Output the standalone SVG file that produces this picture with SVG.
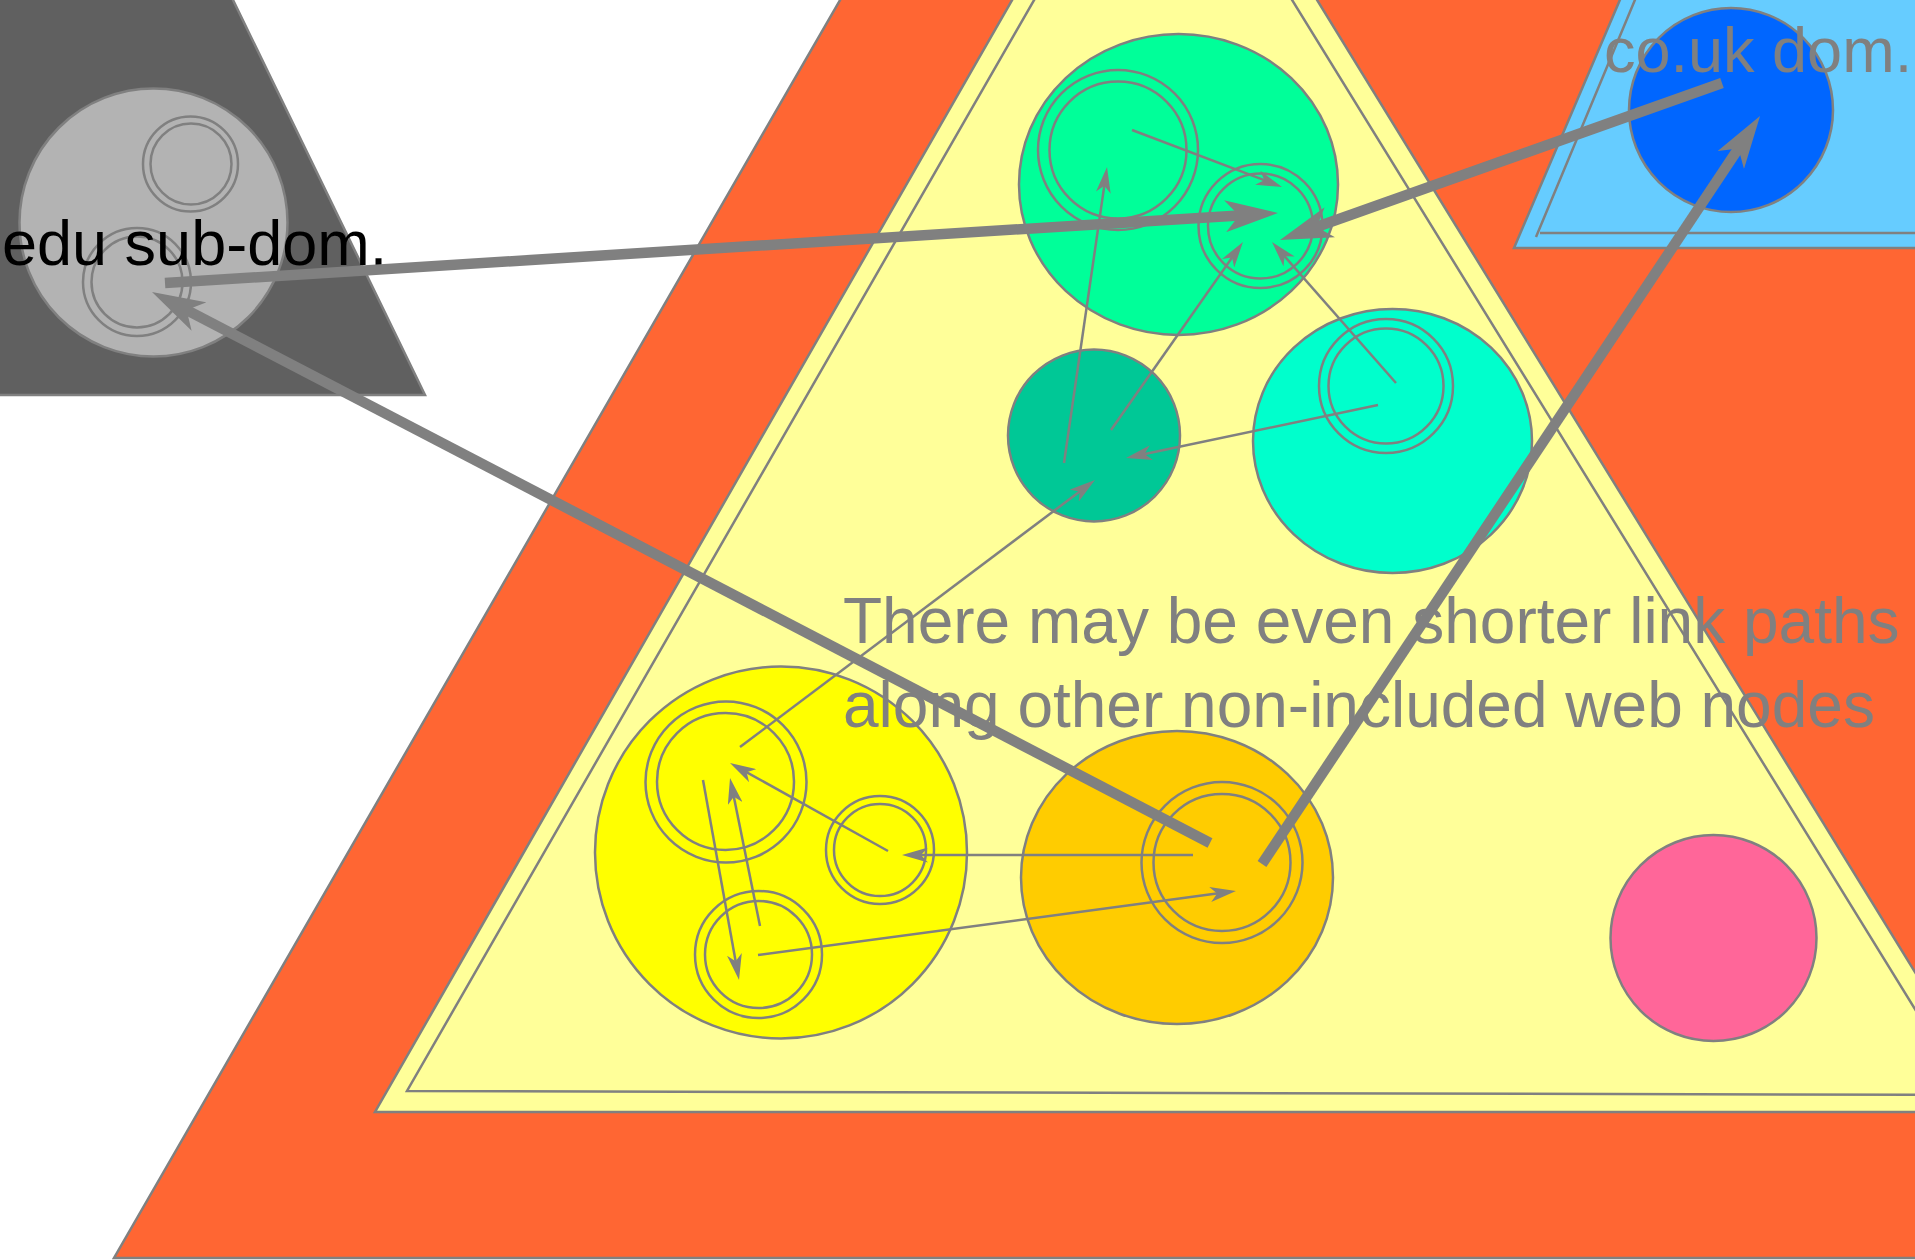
<svg xmlns="http://www.w3.org/2000/svg" width="1915" height="1260" viewBox="0 0 1915 1260">
<style>
.o{stroke:#808080;stroke-width:2.5}
.n{fill:none;stroke:#808080;stroke-width:2.5}
.thin{fill:none;stroke:#808080;stroke-width:2.5;marker-end:url(#ah)}
.thick{fill:none;stroke:#808080;stroke-width:10.5;marker-end:url(#AH)}
.lbl{font-family:"Liberation Sans",Arial,sans-serif;font-size:63px}
.main{font-family:"Liberation Sans",Arial,sans-serif;font-size:64px;fill:#808080}
</style>
<defs>
<marker id="ah" markerUnits="userSpaceOnUse" viewBox="0 -7.5 26 15" markerWidth="26" markerHeight="15" refX="14" refY="0" orient="auto">
<path d="M0,-7.5 L26,0 L0,7.5 L7,0 z" fill="#808080"/>
</marker>
<marker id="AH" markerUnits="userSpaceOnUse" viewBox="0 -16 53 32" markerWidth="53" markerHeight="32" refX="30" refY="0" orient="auto">
<path d="M0,-16 L53,0 L0,16 L14,0 z" fill="#808080"/>
</marker>
</defs>
<rect width="1915" height="1260" fill="#ffffff"/>
<g id="com-domain">
<polygon class="o" fill="#FF6633" points="843,-5 2000,-5 2000,1258 114,1258"/>
</g>
<g id="site-area">
<polygon class="o" fill="#FFFF99" points="1015,-5 1314,-5 2001,1112 375,1112"/>
<polygon class="n" points="1037,-5 1289,-5 1968,1095 407,1091"/>
</g>
<g id="couk-domain">
<polygon class="o" fill="#66CCFF" points="1622,-5 1925,-5 1925,248 1514,248"/>
<path class="n" d="M1637,-5 L1536,237 M1540,233 L1925,233"/>
</g>
<g id="edu-subdomain">
<polygon class="o" fill="#606060" points="-5,-5 230.6,-5 425,395 -5,395"/>
</g>
<g id="edu-node">
<circle class="o" fill="#B3B3B3" cx="153.5" cy="222.5" r="134"/>
<circle class="n" cx="190.5" cy="164" r="47.5"/>
<circle class="n" cx="191" cy="164" r="40.5"/>
<circle class="n" cx="137" cy="282" r="54"/>
<circle class="n" cx="137" cy="282" r="45.5"/>
</g>
<g id="couk-node">
<circle class="o" fill="#0066FF" cx="1731" cy="110" r="102"/>
</g>
<g id="green-node">
<ellipse class="o" fill="#00FF99" cx="1178.5" cy="184.5" rx="159.5" ry="150.5"/>
<circle class="n" cx="1118" cy="150" r="80"/>
<circle class="n" cx="1118" cy="150" r="68.5"/>
<circle class="n" cx="1260.5" cy="226" r="62"/>
<circle class="n" cx="1260.5" cy="226" r="52.5"/>
</g>
<g id="darkgreen-node">
<circle class="o" fill="#00C896" cx="1094" cy="435.5" r="86"/>
</g>
<g id="cyan-node">
<ellipse class="o" fill="#00FFCC" cx="1392.5" cy="441" rx="139.5" ry="132"/>
<circle class="n" cx="1386" cy="386" r="67"/>
<circle class="n" cx="1386" cy="386" r="57.5"/>
</g>
<g id="yellow-node">
<circle class="o" fill="#FFFF00" cx="781" cy="852.5" r="186"/>
<circle class="n" cx="726" cy="782" r="80.5"/>
<circle class="n" cx="725.5" cy="781.5" r="68.5"/>
<circle class="n" cx="880" cy="850" r="54"/>
<circle class="n" cx="880" cy="850" r="46"/>
<circle class="n" cx="758.5" cy="954.5" r="63.5"/>
<circle class="n" cx="758.5" cy="954.5" r="53.5"/>
</g>
<g id="gold-node">
<ellipse class="o" fill="#FFCC00" cx="1177" cy="877.5" rx="156" ry="146.5"/>
<circle class="n" cx="1222" cy="862.5" r="80.5"/>
<circle class="n" cx="1222" cy="862.5" r="68.5"/>
</g>
<g id="pink-node">
<circle class="o" fill="#FF6699" cx="1713.5" cy="938" r="103"/>
</g>
<g id="labels">
<text class="lbl" x="2" y="265" fill="#000000">edu sub-dom.</text>
<text class="lbl" x="1604" y="72" fill="#808080">co.uk dom.</text>
<text class="main" x="843" y="643">There may be even shorter link paths</text>
<text class="main" x="843" y="727">along other non-included web nodes</text>
</g>
<g id="connectors">
<line class="thin" x1="1132" y1="130" x2="1270.8" y2="182.7"/>
<line class="thin" x1="1064" y1="463" x2="1105.3" y2="178.9"/>
<line class="thin" x1="1111" y1="430" x2="1236.1" y2="251.8"/>
<line class="thin" x1="1396" y1="383" x2="1279.9" y2="251"/>
<line class="thin" x1="1378" y1="405" x2="1137.7" y2="455.5"/>
<line class="thin" x1="740" y1="747" x2="1085.4" y2="487.2"/>
<line class="thin" x1="888" y1="851" x2="740.5" y2="768.8"/>
<line class="thin" x1="1193" y1="855" x2="914" y2="855"/>
<line class="thin" x1="760" y1="926" x2="732.4" y2="789.8"/>
<line class="thin" x1="703" y1="780" x2="736.9" y2="968.2"/>
<line class="thin" x1="758" y1="955" x2="1224.1" y2="892.6"/>
<line class="thick" x1="165" y1="283" x2="1255" y2="214.4"/>
<line class="thick" x1="1722" y1="83" x2="1301.7" y2="232.3"/>
<line class="thick" x1="1210" y1="843" x2="172.4" y2="302.6"/>
<line class="thick" x1="1262" y1="864" x2="1747.3" y2="135.1"/>
</g>
</svg>
